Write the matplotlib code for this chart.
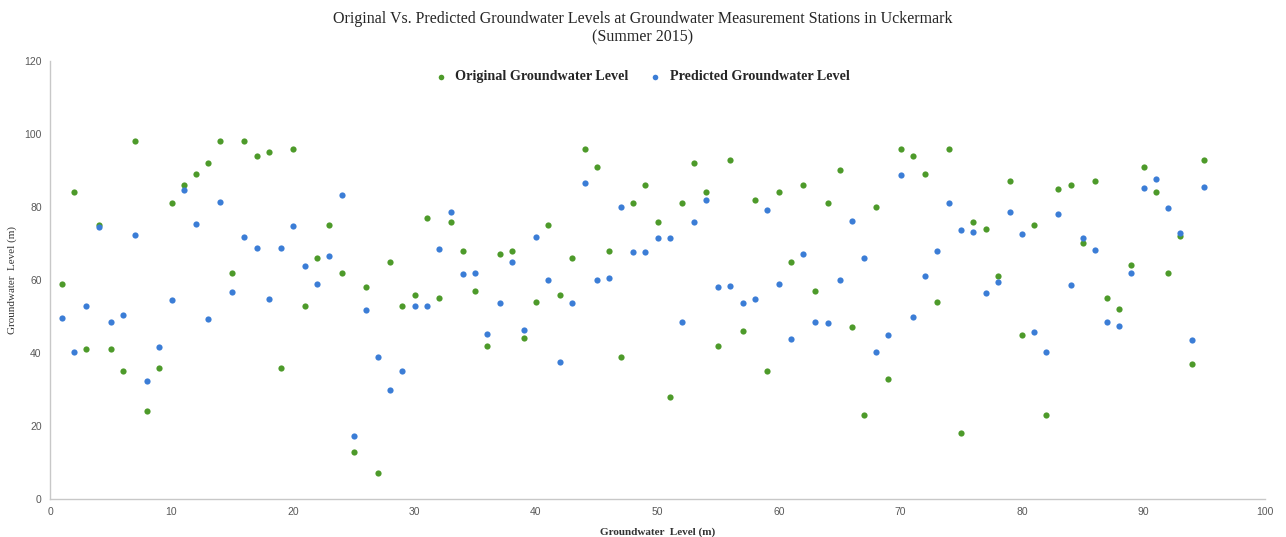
import matplotlib
matplotlib.use("Agg")
import matplotlib.pyplot as plt

stations = list(range(1, 96))

original = [59, 84, 41, 75, 41, 35, 98, 24, 36, 81,
            86, 89, 92, 98, 62, 98, 94, 95, 36, 96,
            53, 66, 75, 62, 13, 58, 7, 65, 53, 56,
            77, 55, 76, 68, 57, 42, 67, 68, 44, 54,
            75, 56, 66, 96, 91, 68, 39, 81, 86, 76,
            28, 81, 92, 84, 42, 93, 46, 82, 35, 84,
            65, 86, 57, 81, 90, 47, 23, 80, 33, 96,
            94, 89, 54, 96, 18, 76, 74, 61, 87, 45,
            75, 23, 85, 86, 70, 87, 55, 52, 64, 91,
            84, 62, 72, 37, 93]

predicted = [49.5, 40.4, 52.9, 74.6, 48.6, 50.5, 72.3, 32.3, 41.7, 54.5,
             84.7, 75.4, 49.3, 81.5, 56.6, 71.7, 68.9, 54.7, 68.9, 74.7,
             63.9, 59.0, 66.5, 83.3, 17.3, 51.7, 38.9, 29.8, 35.2, 53.0,
             53.0, 68.4, 78.5, 61.6, 61.8, 45.3, 53.8, 65.0, 46.2, 71.7,
             59.9, 37.5, 53.6, 86.5, 59.9, 60.6, 79.9, 67.7, 67.7, 71.4,
             71.4, 48.4, 76.0, 82.0, 58.0, 58.3, 53.8, 54.7, 79.2, 59.0,
             43.9, 67.0, 48.4, 48.1, 59.9, 76.2, 66.0, 40.4, 45.0, 88.7,
             49.9, 61.1, 68.0, 81.1, 73.8, 73.1, 56.4, 59.4, 78.5, 72.6,
             45.8, 40.4, 78.1, 58.5, 71.4, 68.1, 48.4, 47.4, 62.0, 85.1,
             87.7, 79.7, 72.8, 43.5, 85.6]

x_ticks = list(range(0, 101, 10))
y_ticks = list(range(0, 121, 20))

green = "#4d9a2a"
blue = "#3b7dd6"
serif = ["Liberation Serif", "DejaVu Serif"]
narrow = ["Liberation Sans Narrow", "Liberation Sans", "DejaVu Sans"]

fig = plt.figure(figsize=(12.86, 5.37), dpi=100)
ax = fig.add_axes([50 / 1286, 38 / 537, 1215 / 1286, 438 / 537])

ax.scatter(stations, original, s=20, color=green, label="Original Groundwater Level",
           zorder=3, linewidths=0)
ax.scatter(stations, predicted, s=20, color=blue, label="Predicted Groundwater Level",
           zorder=4, linewidths=0)

ax.set_xlim(0, 100)
ax.set_ylim(0, 120)
ax.set_xticks(x_ticks)
ax.set_yticks(y_ticks)
ax.tick_params(length=0, labelsize=7.5, colors="#595959", pad=6)
for lab in ax.get_xticklabels() + ax.get_yticklabels():
    lab.set_family(narrow)

for side in ["top", "right"]:
    ax.spines[side].set_visible(False)
for side in ["left", "bottom"]:
    ax.spines[side].set_color("#c8c8c8")
    ax.spines[side].set_linewidth(1.0)

ax.set_xlabel("Groundwater  Level (m)", fontsize=8, fontweight="bold", family=serif,
              color="#333333", labelpad=7)
ax.set_ylabel("Groundwater  Level (m)", fontsize=8, family=serif,
              color="#333333", labelpad=5)

fig.text(0.5, 0.98, "Original Vs. Predicted Groundwater Levels at Groundwater Measurement Stations in Uckermark\n(Summer 2015)",
         ha="center", va="top", fontsize=11.5, family=serif, color="#262626", linespacing=1.25)

leg = ax.legend(loc="upper center", bbox_to_anchor=(0.484, 1.008), ncol=2, frameon=False,
                prop={"family": serif, "weight": "bold", "size": 10.2},
                handletextpad=0.0, columnspacing=0.9, markerscale=0.9)
for t in leg.get_texts():
    t.set_color("#262626")

fig.savefig("out.png", dpi=100)
